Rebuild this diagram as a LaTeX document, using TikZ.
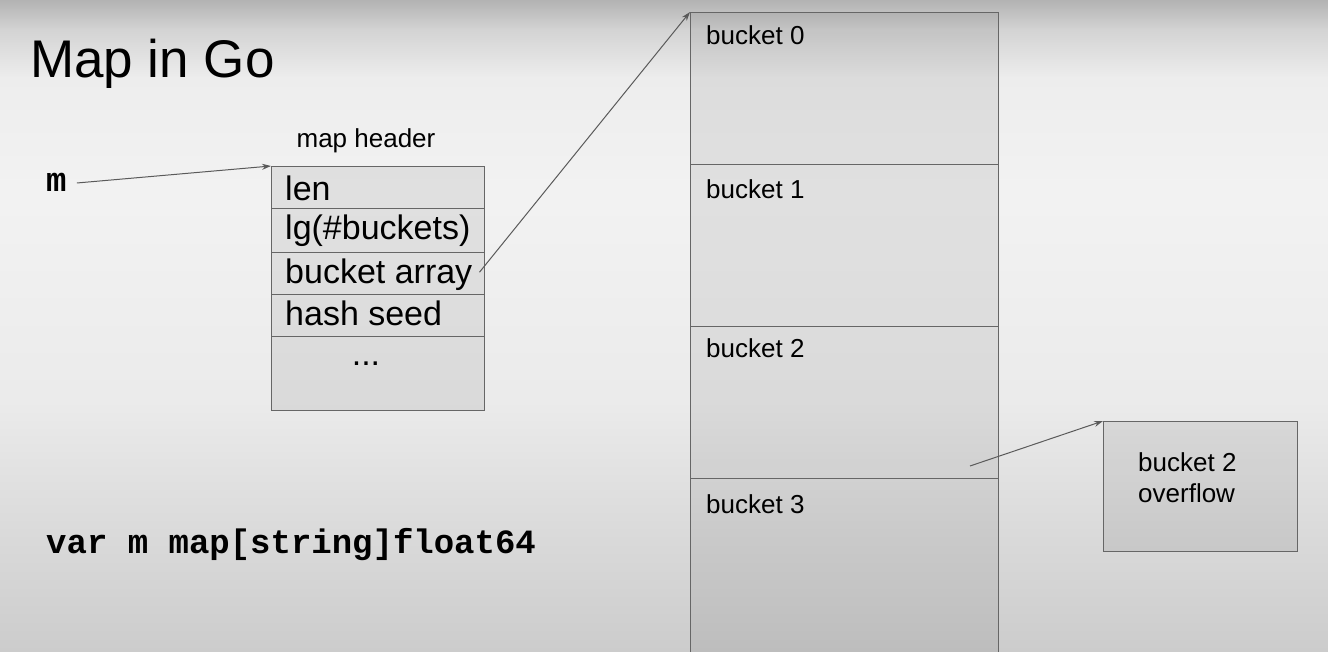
\documentclass[tikz,border=0pt]{standalone}
\usepackage{fontspec}
\setmainfont{Liberation Sans}
\newfontfamily\codefont{Liberation Mono}
\usetikzlibrary{arrows.meta,calc}
\definecolor{boxline}{HTML}{666666}
\definecolor{arrowc}{HTML}{5A5A5A}
\pgfdeclareverticalshading{bgshade}{100bp}{color(0bp)=(black!20); color(25bp)=(black!20); color(35bp)=(black!14); color(44bp)=(black!8); color(60bp)=(black!5); color(69bp)=(black!7); color(72.7bp)=(black!17); color(75bp)=(black!30); color(100bp)=(black!30)}
\begin{document}
\begin{tikzpicture}[x=1pt,y=-1pt,
  box/.style={draw=boxline, line width=1.2pt, fill=black, fill opacity=0.07, text opacity=1},
  hrow/.style={box, anchor=north west, minimum width=213pt, inner sep=0pt},
  hlabel/.style={anchor=base west, inner sep=0pt, font=\fontsize{34}{36}\selectfont},
  bucketbox/.style={box, anchor=north west, minimum width=308pt, inner sep=0pt},
  blabel/.style={anchor=base west, inner sep=0pt, font=\fontsize{26}{31}\selectfont},
  code/.style={anchor=base west, inner sep=0pt, font=\codefont\bfseries\fontsize{34}{36}\selectfont},
  ptr/.style={draw=arrowc, line width=1pt, -{Stealth[length=9pt,width=6pt]}}
]
\useasboundingbox (0,0) rectangle (1328,652);
\shade[shading=bgshade] (0,0) rectangle (1328,652);

% title
\node[anchor=base west, inner sep=0pt, font=\fontsize{53}{55}\selectfont] (title) at (30,78) {Map in Go};

% variable m
\node[code] (m) at (46,192) {m};
\node[code] (decl) at (46,553) {var m map[string]float64};

% map header
\node[blabel, anchor=base] (mhlabel) at (366,148) {map header};
\node[hrow, minimum height=42pt] (r1) at (271,166) {};
\node[hrow, minimum height=44pt] (r2) at (271,208) {};
\node[hrow, minimum height=42pt] (r3) at (271,252) {};
\node[hrow, minimum height=42pt] (r4) at (271,294) {};
\node[hrow, minimum height=74pt] (r5) at (271,336) {};
\node[hlabel] (t1) at (285,201) {len};
\node[hlabel] (t2) at (285,240) {lg(\#buckets)};
\node[hlabel] (t3) at (285,284) {bucket array};
\node[hlabel] (t4) at (285,326) {hash seed};
\node[anchor=base, inner sep=0pt, font=\fontsize{34}{36}\selectfont] (dots) at (366,366) {...};

% bucket array
\node[bucketbox, minimum height=152pt] (b0) at (690,12) {};
\node[bucketbox, minimum height=162pt] (b1) at (690,164) {};
\node[bucketbox, minimum height=152pt] (b2) at (690,326) {};
\node[bucketbox, minimum height=190pt] (b3) at (690,478) {};
\node[blabel] (l0) at ([shift={(16pt,-33pt)}]b0.north west) {bucket 0};
\node[blabel] (l1) at ([shift={(16pt,-35pt)}]b1.north west) {bucket 1};
\node[blabel] (l2) at ([shift={(16pt,-31pt)}]b2.north west) {bucket 2};
\node[blabel] (l3) at ([shift={(16pt,-35pt)}]b3.north west) {bucket 3};
\coordinate (sepL) at (691,451);
\coordinate (sepR) at (997,451);
\draw[black!17, line width=1.2pt] (sepL) -- (sepR);
\coordinate (ovfrom) at (970,466);

% overflow bucket
\node[box, anchor=north west, minimum width=194pt, minimum height=130pt, inner sep=0pt] (ov) at (1103,421) {};
\node[blabel] (ovl1) at (1138,471) {bucket 2};
\node[blabel] (ovl2) at (1138,502) {overflow};

% pointers
\draw[ptr] ([xshift=10pt]m.east |- 0,183) -- (r1.north west);
\draw[ptr] ([xshift=7pt,yshift=3pt]t3.east) -- (b0.north west);
\draw[ptr] (ovfrom) -- (ov.north west);
\end{tikzpicture}
\end{document}
